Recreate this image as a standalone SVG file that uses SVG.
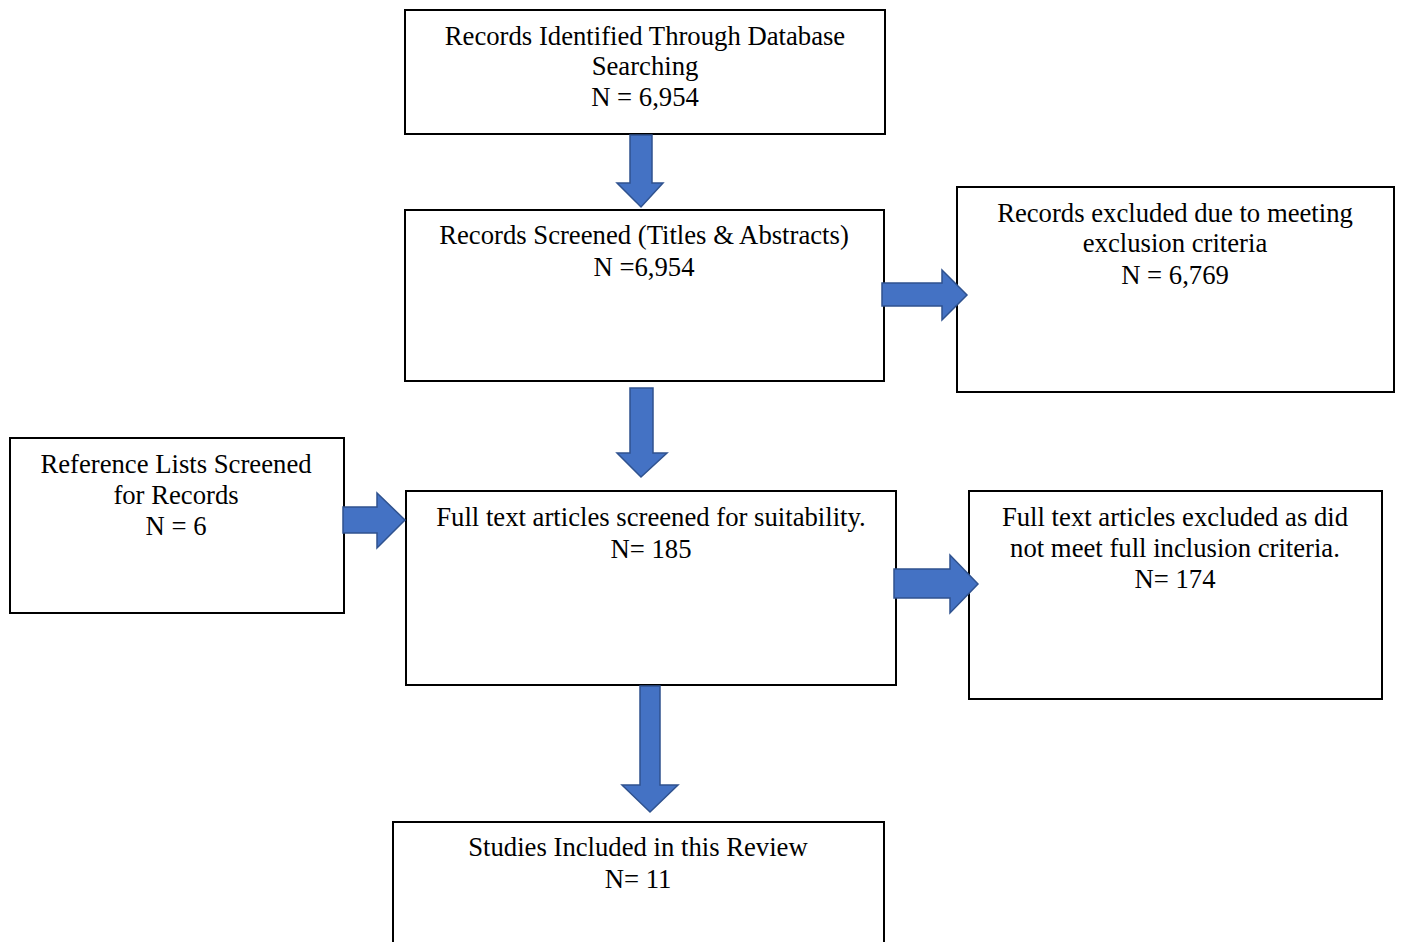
<svg xmlns="http://www.w3.org/2000/svg" width="1402" height="942" viewBox="0 0 1402 942">
<style>
.box{fill:#fff;stroke:#000;stroke-width:2}
.t{font-family:"Liberation Serif","Times New Roman",serif;font-size:26.7px;fill:#000;text-anchor:middle}
.arr{fill:#4472C4;stroke:#2F528F;stroke-width:1.5;stroke-linejoin:miter}
</style>
<rect width="1402" height="942" fill="#fff"/>
<g id="n1">
<rect class="box" x="405" y="10" width="480" height="124"/>
<text class="t" x="645" y="45">Records Identified Through Database</text>
<text class="t" x="645" y="75">Searching</text>
<text class="t" x="645" y="106">N = 6,954</text>
</g>
<g id="n2">
<rect class="box" x="405" y="210" width="479" height="171"/>
<text class="t" x="644" y="244">Records Screened (Titles &amp; Abstracts)</text>
<text class="t" x="644" y="276">N =6,954</text>
</g>
<g id="n3">
<rect class="box" x="957" y="187" width="437" height="205"/>
<text class="t" x="1175" y="222">Records excluded due to meeting</text>
<text class="t" x="1175" y="252">exclusion criteria</text>
<text class="t" x="1175" y="284">N = 6,769</text>
</g>
<g id="n4">
<rect class="box" x="10" y="438" width="334" height="175"/>
<text class="t" x="176" y="473">Reference Lists Screened</text>
<text class="t" x="176" y="504">for Records</text>
<text class="t" x="176" y="535">N = 6</text>
</g>
<g id="n5">
<rect class="box" x="406" y="491" width="490" height="194"/>
<text class="t" x="651" y="526">Full text articles screened for suitability.</text>
<text class="t" x="651" y="558">N= 185</text>
</g>
<g id="n6">
<rect class="box" x="969" y="491" width="413" height="208"/>
<text class="t" x="1175" y="526">Full text articles excluded as did</text>
<text class="t" x="1175" y="557">not meet full inclusion criteria.</text>
<text class="t" x="1175" y="588">N= 174</text>
</g>
<g id="n7">
<rect class="box" x="393" y="822" width="491" height="140"/>
<text class="t" x="638" y="856">Studies Included in this Review</text>
<text class="t" x="638" y="888">N= 11</text>
</g>
<g id="connectors">
<polygon class="arr" points="630,135 652,135 652,183 663,183 641,207 617,183 630,183"/>
<polygon class="arr" points="630,388 653,388 653,453 667,453 641,477 617,453 630,453"/>
<polygon class="arr" points="640,686 660,686 660,785 678,785 650,812 622,785 640,785"/>
<polygon class="arr" points="882,283 942,283 942,270 967,295 942,320 942,306 882,306"/>
<polygon class="arr" points="343,507 377,507 377,493 405,520 377,548 377,533 343,533"/>
<polygon class="arr" points="894,569 950,569 950,555 978,584 950,613 950,598 894,598"/>
</g>
</svg>
